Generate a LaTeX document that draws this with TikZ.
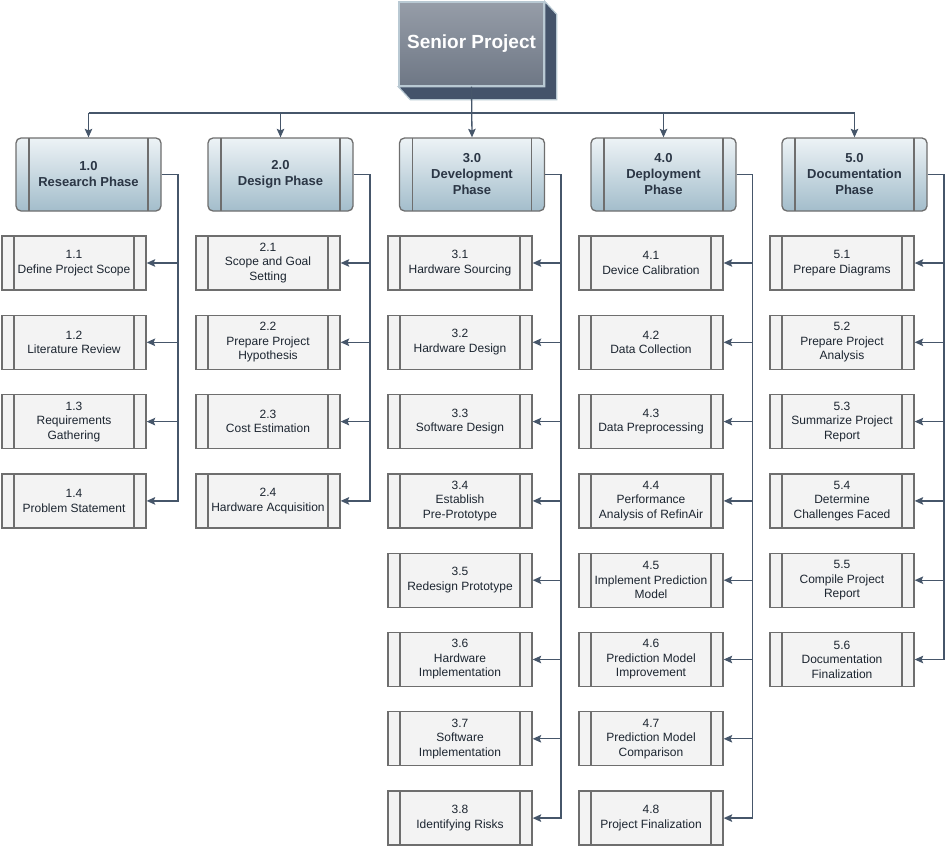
\documentclass[tikz,border=0pt]{standalone}
\usepackage{fontspec}
\setmainfont{Liberation Sans}
\usetikzlibrary{arrows.meta,calc,backgrounds}
\definecolor{conncol}{HTML}{46566A}
\definecolor{boxborder}{HTML}{6E6E6E}
\definecolor{taskfill}{HTML}{F3F3F3}
\definecolor{phasetxt}{HTML}{2B3645}
\definecolor{tasktxt}{HTML}{1C2530}
\definecolor{topside}{HTML}{44536A}
\definecolor{topedge}{HTML}{B9C9D3}
\definecolor{phasetop}{HTML}{EDF3F6}
\definecolor{phasebot}{HTML}{A3BDCB}
\definecolor{toptop}{HTML}{969DA8}
\definecolor{topbot}{HTML}{6E7785}
\tikzset{
  conn/.style={draw=conncol, line width=1.3pt},
  arr/.style={conn, -{Stealth[length=8.5pt,width=7.5pt,inset=1.5pt]}},
  bars/.style={path picture={
      \draw[boxborder, line width=1.2pt]
        ([xshift=#1]path picture bounding box.north west) -- ([xshift=#1]path picture bounding box.south west)
        ([xshift=-#1]path picture bounding box.north east) -- ([xshift=-#1]path picture bounding box.south east);}},
  taskbox/.style={draw=boxborder, line width=1.3pt, fill=taskfill, rectangle,
      minimum width=144pt, minimum height=54pt, inner sep=0pt, align=center,
      text=tasktxt, font=\fontsize{12}{14.5}\selectfont, bars=12pt},
  phasebox/.style={draw=boxborder, line width=1.3pt, rounded corners=5pt, rectangle,
      top color=phasetop, bottom color=phasebot,
      minimum width=145pt, minimum height=73pt, inner sep=0pt, align=center,
      text=phasetxt, font=\bfseries\fontsize{13}{16}\selectfont, bars=13pt},
  topbox/.style={draw=topedge, line width=1.4pt, rectangle,
      top color=toptop, bottom color=topbot,
      minimum width=145pt, minimum height=84pt, inner sep=0pt,
      text=white, font=\bfseries\fontsize{19}{21}\selectfont}
}
\begin{document}
\begin{tikzpicture}[x=1pt,y=-1pt]
\useasboundingbox (0,0) rectangle (947,848);

% top box
\node[topbox] (sp) at (471.5,44) {Senior Project};
\begin{scope}[on background layer]
\filldraw[fill=topside, draw=topedge, line width=1.2pt]
  (sp.north east) -- ($(sp.north east)+(12,13)$) -- ($(sp.south east)+(12,13)$)
  -- ($(sp.south west)+(12,13)$) -- (sp.south west) -- (sp.south east) -- cycle;
\end{scope}

% phase boxes
\node[phasebox] (p1) at (88.5,174.5) {1.0\\Research Phase};
\node[phasebox] (p2) at (280.5,174.5) {2.0\\Design Phase};
\node[phasebox] (p3) at (472,174.5) {3.0\\Development\\Phase};
\node[phasebox] (p4) at (663.5,174.5) {4.0\\Deployment\\Phase};
\node[phasebox] (p5) at (854.5,174.5) {5.0\\Documentation\\Phase};

% tasks
\foreach \i/\txt in {1/{1.1\\Define Project Scope},2/{1.2\\Literature Review},3/{1.3\\Requirements\\Gathering},4/{1.4\\Problem Statement}}
  \node[taskbox] (t1\i) at (74,{263+79.3*(\i-1)}) {\txt};
\foreach \i/\txt in {1/{2.1\\Scope and Goal\\Setting},2/{2.2\\Prepare Project\\Hypothesis},3/{2.3\\Cost Estimation},4/{2.4\\Hardware Acquisition}}
  \node[taskbox] (t2\i) at (268,{263+79.3*(\i-1)}) {\txt};
\foreach \i/\txt in {1/{3.1\\Hardware Sourcing},2/{3.2\\Hardware Design},3/{3.3\\Software Design},4/{3.4\\Establish\\Pre-Prototype},5/{3.5\\Redesign Prototype},6/{3.6\\Hardware\\Implementation},7/{3.7\\Software\\Implementation},8/{3.8\\Identifying Risks}}
  \node[taskbox] (t3\i) at (460,{263+79.3*(\i-1)}) {\txt};
\foreach \i/\txt in {1/{4.1\\Device Calibration},2/{4.2\\Data Collection},3/{4.3\\Data Preprocessing},4/{4.4\\Performance\\Analysis of RefinAir},5/{4.5\\Implement Prediction\\Model},6/{4.6\\Prediction Model\\Improvement},7/{4.7\\Prediction Model\\Comparison},8/{4.8\\Project Finalization}}
  \node[taskbox] (t4\i) at (651,{263+79.3*(\i-1)}) {\txt};
\foreach \i/\txt in {1/{5.1\\Prepare Diagrams},2/{5.2\\Prepare Project\\Analysis},3/{5.3\\Summarize Project\\Report},4/{5.4\\Determine\\Challenges Faced},5/{5.5\\Compile Project\\Report},6/{5.6\\Documentation\\Finalization}}
  \node[taskbox] (t5\i) at (842,{263+79.3*(\i-1)}) {\txt};

% top connectors
\coordinate (bus) at (0,113);
\draw[conn] (p1.north |- bus) -- (p5.north |- bus);
\foreach \p in {p1,p2,p4,p5}
  \draw[arr] (\p.north |- bus) -- (\p.north);
\draw[arr] (sp.south) -- (p3.north);

% trunks
\coordinate (v1) at (178,0);
\coordinate (v2) at (370,0);
\coordinate (v3) at (561,0);
\coordinate (v4) at (752.5,0);
\coordinate (v5) at (944,0);
\draw[arr] (p1.east) -- (p1.east -| v1) -- (t14.east -| v1) -- (t14.east);
\draw[arr] (p2.east) -- (p2.east -| v2) -- (t24.east -| v2) -- (t24.east);
\draw[arr] (p3.east) -- (p3.east -| v3) -- (t38.east -| v3) -- (t38.east);
\draw[arr] (p4.east) -- (p4.east -| v4) -- (t48.east -| v4) -- (t48.east);
\draw[arr] (p5.east) -- (p5.east -| v5) -- (t56.east -| v5) -- (t56.east);
\foreach \i in {1,2,3} {
  \draw[arr] (t1\i.east -| v1) -- (t1\i.east);
  \draw[arr] (t2\i.east -| v2) -- (t2\i.east);
}
\foreach \i in {1,...,7} {
  \draw[arr] (t3\i.east -| v3) -- (t3\i.east);
  \draw[arr] (t4\i.east -| v4) -- (t4\i.east);
}
\foreach \i in {1,...,5}
  \draw[arr] (t5\i.east -| v5) -- (t5\i.east);
\end{tikzpicture}
\end{document}
